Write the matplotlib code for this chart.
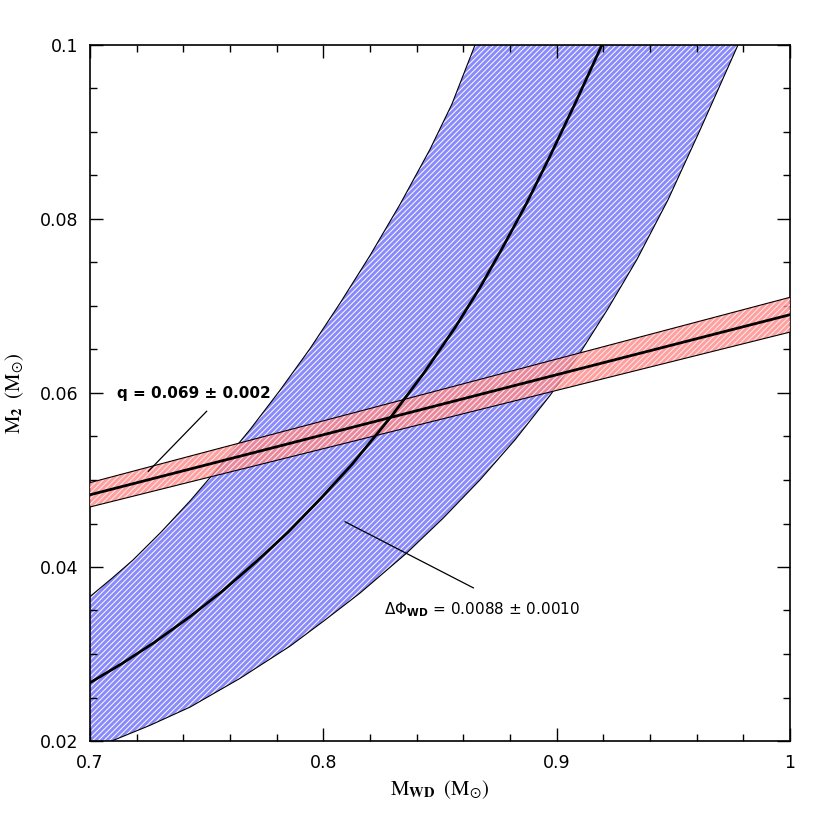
import matplotlib
matplotlib.use("Agg")
import matplotlib.pyplot as plt
from matplotlib.ticker import FixedLocator, FixedFormatter, MultipleLocator

# ---- data ----
# Delta Phi_WD constraint: central curve and +/- bounds
mwd_center = [0.7000, 0.7137, 0.7274, 0.7429, 0.7566, 0.7716, 0.7849, 0.7986, 0.8123,
              0.8294, 0.8431, 0.8569, 0.8671, 0.8766, 0.8869, 0.8971, 0.9083, 0.9194]
m2_center = [0.0267, 0.0289, 0.0313, 0.0343, 0.0372, 0.0407, 0.0440, 0.0478, 0.0518,
             0.0574, 0.0623, 0.0677, 0.0721, 0.0766, 0.0817, 0.0872, 0.0935, 0.1000]

mwd_upper = [0.7000, 0.7094, 0.7184, 0.7304, 0.7429, 0.7557, 0.7686, 0.7814, 0.7943,
             0.8071, 0.8200, 0.8329, 0.8457, 0.8551, 0.8650]
m2_upper = [0.0366, 0.0387, 0.0408, 0.0440, 0.0476, 0.0516, 0.0558, 0.0603, 0.0651,
            0.0703, 0.0758, 0.0817, 0.0880, 0.0932, 0.1000]

mwd_lower = [0.7000, 0.7093, 0.7257, 0.7429, 0.7643, 0.7857, 0.8007, 0.8157, 0.8357,
             0.8513, 0.8671, 0.8821, 0.8971, 0.9100, 0.9220, 0.9343, 0.9477, 0.9614, 0.9777]
m2_lower = [0.0190, 0.0200, 0.0218, 0.0239, 0.0272, 0.0309, 0.0339, 0.0370, 0.0416,
            0.0456, 0.0500, 0.0546, 0.0597, 0.0646, 0.0697, 0.0753, 0.0822, 0.0902, 0.1000]

# mass ratio constraint q = 0.069 +/- 0.002
mwd_q = [0.70, 1.00]
m2_q_center = [0.0483, 0.0690]
m2_q_upper = [0.0497, 0.0710]
m2_q_lower = [0.0469, 0.0670]

x_ticks = [0.7, 0.8, 0.9, 1.0]
x_tick_labels = ["0.7", "0.8", "0.9", "1"]
y_ticks = [0.02, 0.04, 0.06, 0.08, 0.1]
y_tick_labels = ["0.02", "0.04", "0.06", "0.08", "0.1"]

label_q = "q = 0.069 ± 0.002"
label_phi = r"$\Delta\Phi_{\mathbf{WD}}$ = 0.0088 ± 0.0010"

# ---- figure ----
plt.rcParams["hatch.linewidth"] = 0.7
plt.rcParams["mathtext.fontset"] = "dejavusans"

fig = plt.figure(figsize=(8.3, 8.3), dpi=100)
ax = fig.add_axes([90 / 830, 89 / 830, 700 / 830, 696 / 830])

blue = "#8a8afa"
red = "#ff8888"

# blue band polygon: lower curve up to top, then upper curve back down
poly_x = list(mwd_lower) + list(mwd_upper[::-1])
poly_y = list(m2_lower) + list(m2_upper[::-1])
ax.fill(poly_x, poly_y, facecolor=blue, edgecolor="white", hatch="//////",
        linewidth=0, zorder=1)
ax.plot(mwd_upper, m2_upper, color="black", lw=0.8, zorder=2)
ax.plot(mwd_lower, m2_lower, color="black", lw=0.8, zorder=2)

# red band
ax.fill_between(mwd_q, m2_q_lower, m2_q_upper, facecolor=red, edgecolor="white",
                hatch="//////", linewidth=0, alpha=0.8, zorder=3)
ax.plot(mwd_q, m2_q_upper, color="black", lw=0.8, zorder=4)
ax.plot(mwd_q, m2_q_lower, color="black", lw=0.8, zorder=4)

# central curves
ax.plot(mwd_q, m2_q_center, color="black", lw=2.0, zorder=5)
ax.plot(mwd_center, m2_center, color="black", lw=2.0, zorder=5)

# annotations
ax.plot([0.750, 0.725], [0.0579, 0.0510], color="black", lw=0.9, zorder=6)
ax.text(0.7116, 0.0594, label_q, fontsize=11, fontweight="bold",
        ha="left", va="baseline", zorder=7)
ax.plot([0.8093, 0.8643], [0.0452, 0.0376], color="black", lw=0.9, zorder=6)
ax.text(0.826, 0.0346, label_phi, fontsize=11, ha="left", va="baseline", zorder=7)

ax.set_xlim(0.7, 1.0)
ax.set_ylim(0.02, 0.1)

ax.xaxis.set_major_locator(FixedLocator(x_ticks))
ax.xaxis.set_major_formatter(FixedFormatter(x_tick_labels))
ax.yaxis.set_major_locator(FixedLocator(y_ticks))
ax.yaxis.set_major_formatter(FixedFormatter(y_tick_labels))
ax.xaxis.set_minor_locator(MultipleLocator(0.02))
ax.yaxis.set_minor_locator(MultipleLocator(0.005))

ax.tick_params(which="both", direction="in", top=True, right=True, width=1.0)
ax.tick_params(which="major", length=9.4)
ax.tick_params(which="minor", length=4.8)
ax.tick_params(axis="x", which="major", pad=9, labelsize=12.5)
ax.tick_params(axis="y", which="major", pad=8.5, labelsize=12.5)
for s in ax.spines.values():
    s.set_linewidth(1.2)

ax.set_xlabel(r"$\mathrm{M}_{\mathbf{WD}}\;\;(\mathrm{M}_{\odot})$", fontsize=15,
              labelpad=5, math_fontfamily="stix")
ax.set_ylabel(r"$\mathrm{M}_{\mathbf{2}}\;\;(\mathrm{M}_{\odot})$", fontsize=15,
              labelpad=10, math_fontfamily="stix")

fig.savefig("out.png", dpi=100)
